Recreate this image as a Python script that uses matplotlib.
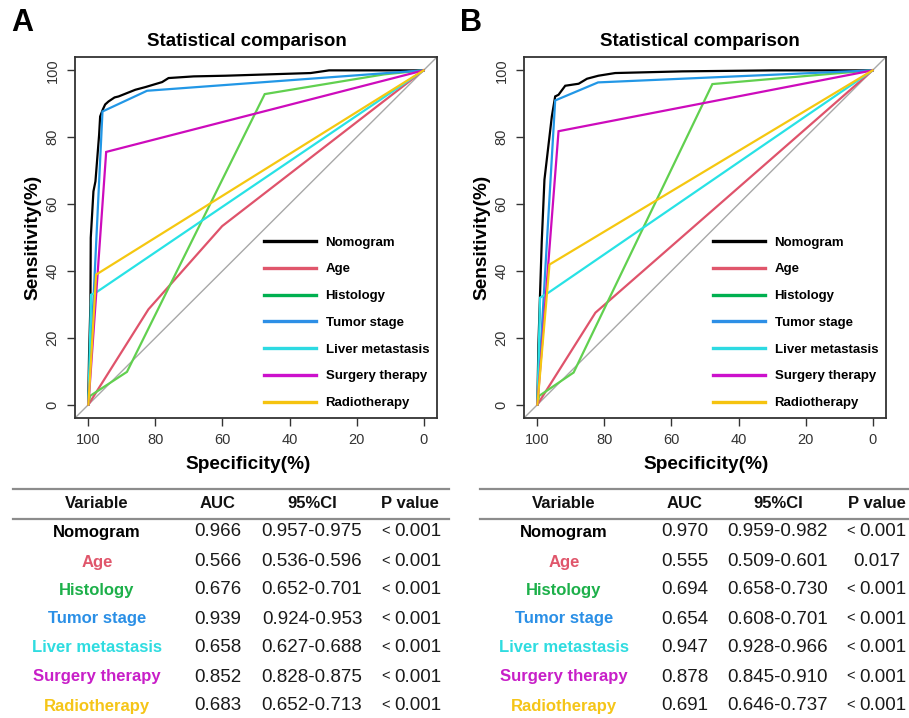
import matplotlib
matplotlib.use("Agg")
import matplotlib.pyplot as plt
from matplotlib.lines import Line2D

plt.rcParams['font.family'] = ['Liberation Sans', 'DejaVu Sans']

# ---------------- data ----------------
model_names = ["Nomogram", "Age", "Histology", "Tumor stage",
               "Liver metastasis", "Surgery therapy", "Radiotherapy"]
line_colors = ["#000000", "#DF536B", "#61D04F", "#2297E6",
               "#28E2E5", "#CD0BBC", "#F5C710"]
legend_colors = ["#000000", "#E0566B", "#00B050", "#2D8FE6",
                 "#2DDAE2", "#CC11CC", "#F5C30F"]
table_colors = ["#000000", "#E0566B", "#1DB04A", "#2A8FE6",
                "#2FDCE0", "#C81FC8", "#F5C518"]

# Panel A curves (specificity %, sensitivity %)
A_nomogram_spec = [100, 100, 99.8, 99.4, 99.3, 98.5, 97.9, 96.8, 96.5, 95.7, 95.0, 94.0, 92.2,
                   91.0, 89.0, 86.0, 83.0, 78.0, 76.1, 68.6, 59.1, 33.7, 28.2, 0]
A_nomogram_sens = [0, 4, 15, 30, 49.9, 63.8, 66.8, 80.8, 86.2, 88.3, 89.8, 90.7, 91.9,
                   92.2, 93.0, 94.2, 95.0, 96.5, 97.7, 98.2, 98.4, 99.2, 100, 100]
A_age_spec = [100, 82.1, 60.1, 0]
A_age_sens = [0, 28.5, 53.4, 100]
A_hist_spec = [100, 99.5, 88.5, 47.4, 11.8, 0]
A_hist_sens = [0, 2.6, 9.8, 92.9, 98.8, 100]
A_stage_spec = [100, 95.8, 82.5, 0]
A_stage_sens = [0, 87.7, 93.9, 100]
A_liver_spec = [100, 99.2, 97.8, 0]
A_liver_sens = [0, 32.9, 33.5, 100]
A_surg_spec = [100, 94.7, 0]
A_surg_sens = [0, 75.6, 100]
A_radio_spec = [100, 97.7, 0]
A_radio_sens = [0, 38.9, 100]

# Panel B curves
B_nomogram_spec = [100, 100, 99.7, 98.7, 97.9, 95.7, 94.7, 93.7, 91.7, 87.7, 85.2,
                   81.8, 76.8, 56.8, 29.9, 0]
B_nomogram_sens = [0, 1, 18, 48.9, 67.3, 86.2, 92.2, 92.7, 95.4, 96.0, 97.5,
                   98.4, 99.2, 99.7, 100, 100]
B_age_spec = [100, 82.7, 0]
B_age_sens = [0, 27.5, 100]
B_hist_spec = [100, 99.5, 89.2, 47.8, 12.0, 0]
B_hist_sens = [0, 2.6, 9.6, 95.9, 99.0, 100]
B_stage_spec = [100, 94.7, 81.9, 0]
B_stage_sens = [0, 91.0, 96.4, 100]
B_liver_spec = [100, 99.2, 96.7, 0]
B_liver_sens = [0, 32.0, 33.5, 100]
B_surg_spec = [100, 93.7, 0]
B_surg_sens = [0, 81.8, 100]
B_radio_spec = [100, 96.4, 0]
B_radio_sens = [0, 41.9, 100]

axis_ticks = [0, 20, 40, 60, 80, 100]

# Tables
table_header = ["Variable", "AUC", "95%CI", "P value"]
A_auc = ["0.966", "0.566", "0.676", "0.939", "0.658", "0.852", "0.683"]
A_ci = ["0.957-0.975", "0.536-0.596", "0.652-0.701", "0.924-0.953",
        "0.627-0.688", "0.828-0.875", "0.652-0.713"]
A_p = ["< 0.001"] * 7
B_auc = ["0.970", "0.555", "0.694", "0.654", "0.947", "0.878", "0.691"]
B_ci = ["0.959-0.982", "0.509-0.601", "0.658-0.730", "0.608-0.701",
        "0.928-0.966", "0.845-0.910", "0.646-0.737"]
B_p = ["< 0.001", "0.017", "< 0.001", "< 0.001", "< 0.001", "< 0.001", "< 0.001"]

W, H = 909, 718
fig = plt.figure(figsize=(W / 100, H / 100), dpi=100)


def fx(px):
    return px / W


def fy(py):
    return 1 - py / H


def draw_panel(left_px, letter, letter_x, curves, title_x, xlabel_x):
    ax = fig.add_axes([fx(left_px), fy(418), fx(362), 361 / H])
    ax.set_xlim(104, -4)
    ax.set_ylim(-4, 104)
    ax.axline((100, 0), (0, 100), color="#A8A8A8", lw=1.0, zorder=1)
    for (sx, sy), c in zip(curves, line_colors):
        ax.plot(sx, sy, color=c, lw=1.6, zorder=2, solid_joinstyle="miter")
    ax.set_xticks(axis_ticks)
    ax.set_yticks(axis_ticks)
    ax.set_xticklabels([str(t) for t in axis_ticks])
    ax.set_yticklabels([str(t) for t in axis_ticks], rotation=90, va="center")
    ax.tick_params(length=6, width=1.0, color="#333333", labelsize=10.5,
                   labelcolor="#333333", pad=5)
    for s in ax.spines.values():
        s.set_linewidth(1.3)
        s.set_color("#333333")
    ax.set_title("Statistical comparison", fontsize=13.5, fontweight="bold", pad=8,
                 x=title_x)
    ax.set_xlabel("Specificity(%)", fontsize=13.7, fontweight="bold", labelpad=1)
    ax.xaxis.set_label_coords(xlabel_x, -0.105)
    ax.set_ylabel("Sensitivity(%)", fontsize=13.7, fontweight="bold", labelpad=3)
    handles = [Line2D([], [], color=c, lw=2.4) for c in legend_colors]
    ax.legend(handles, model_names, loc="upper left", bbox_to_anchor=(0.521, 0.503),
              frameon=False, prop={"weight": "bold", "size": 9.5},
              handlelength=4.0, handletextpad=0.7, labelspacing=1.1,
              borderpad=0, borderaxespad=0)
    fig.text(fx(letter_x), fy(23), letter, fontsize=22, fontweight="bold",
             ha="center", va="center")
    return ax


curves_A = [(A_nomogram_spec, A_nomogram_sens), (A_age_spec, A_age_sens),
            (A_hist_spec, A_hist_sens), (A_stage_spec, A_stage_sens),
            (A_liver_spec, A_liver_sens), (A_surg_spec, A_surg_sens),
            (A_radio_spec, A_radio_sens)]
curves_B = [(B_nomogram_spec, B_nomogram_sens), (B_age_spec, B_age_sens),
            (B_hist_spec, B_hist_sens), (B_stage_spec, B_stage_sens),
            (B_liver_spec, B_liver_sens), (B_surg_spec, B_surg_sens),
            (B_radio_spec, B_radio_sens)]

draw_panel(75, "A", 22, curves_A, 0.476, 0.478)
draw_panel(524, "B", 471, curves_B, 0.487, 0.504)

row_y = [532, 562, 590, 619, 648, 677, 706]


def draw_table(x0, x1, cols, auc, ci, pv, pnum_dx):
    for yy in (489, 519):
        fig.add_artist(Line2D([fx(x0), fx(x1)], [fy(yy), fy(yy)], color="#8C8C8C", lw=1.6))
    for txt, cx in zip(table_header, cols):
        fig.text(fx(cx), fy(503), txt, fontsize=12, fontweight="bold",
                 ha="center", va="center", color="#111111")
    for i, name in enumerate(model_names):
        y = fy(row_y[i])
        fig.text(fx(cols[0]), y, name, fontsize=12, fontweight="bold",
                 ha="center", va="center", color=table_colors[i])
        fig.text(fx(cols[1]), y, auc[i], fontsize=13.5, ha="center", va="center", color="#1A1A1A")
        fig.text(fx(cols[2]), y, ci[i], fontsize=13.5, ha="center", va="center", color="#1A1A1A")
        p = pv[i]
        if p.startswith("<"):
            num = p[1:].strip()
            fig.text(fx(cols[3] + pnum_dx), y, num, fontsize=13.5, ha="center", va="center",
                     color="#1A1A1A")
            fig.text(fx(cols[3] + pnum_dx - 28), y + 0.001, "<", fontsize=10.5, ha="right",
                     va="center", color="#1A1A1A")
        else:
            fig.text(fx(cols[3]), y, p, fontsize=13.5, ha="center", va="center", color="#1A1A1A")


draw_table(13, 449, [97, 218, 312, 410], A_auc, A_ci, A_p, 8)
draw_table(480, 909, [564, 685, 778, 877], B_auc, B_ci, B_p, 6)

fig.savefig("out.png", dpi=100)
